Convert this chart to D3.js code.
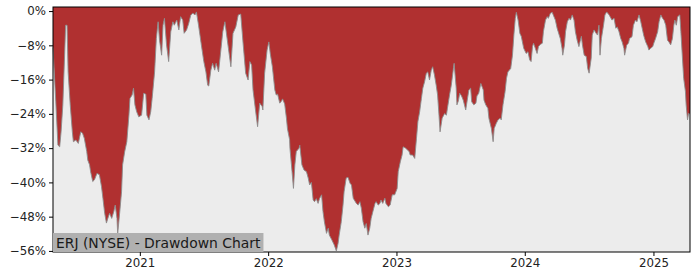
<!DOCTYPE html>
<html>
<head>
<meta charset="utf-8">
<script src="https://cdn.jsdelivr.net/npm/d3@7"></script>
<style>
    body { margin: 0; background: #ffffff; }
</style>
</head>
<body>
<div id="chart-area"></div>
<script>
var chartTitle = "ERJ (NYSE) - Drawdown Chart";

var dates = [
    "2020-04-29","2020-05-07","2020-05-13","2020-05-18","2020-05-22","2020-05-27","2020-06-01","2020-06-04",
    "2020-06-08","2020-06-11","2020-06-17","2020-06-23","2020-06-26","2020-07-03","2020-07-10","2020-07-17",
    "2020-07-22","2020-07-27","2020-08-03","2020-08-06","2020-08-11","2020-08-14","2020-08-20","2020-08-25",
    "2020-09-01","2020-09-08","2020-09-14","2020-09-18","2020-09-23","2020-09-28","2020-10-02","2020-10-07",
    "2020-10-13","2020-10-19","2020-10-23","2020-10-28","2020-10-30","2020-11-05","2020-11-10","2020-11-13",
    "2020-11-19","2020-11-25","2020-12-01","2020-12-04","2020-12-10","2020-12-14","2020-12-18","2020-12-23",
    "2020-12-29","2021-01-06","2021-01-12","2021-01-18","2021-01-21","2021-01-27","2021-02-01","2021-02-05",
    "2021-02-12","2021-02-17","2021-02-22","2021-02-26","2021-03-04","2021-03-08","2021-03-12","2021-03-18",
    "2021-03-24","2021-03-30","2021-04-05","2021-04-09","2021-04-16","2021-04-22","2021-04-27","2021-05-03",
    "2021-05-07","2021-05-14","2021-05-20","2021-05-26","2021-06-01","2021-06-07","2021-06-11","2021-06-17",
    "2021-06-21","2021-06-25","2021-07-02","2021-07-08","2021-07-13","2021-07-16","2021-07-22","2021-07-27",
    "2021-08-02","2021-08-06","2021-08-13","2021-08-19","2021-08-25","2021-08-31","2021-09-03","2021-09-10",
    "2021-09-17","2021-09-23","2021-10-01","2021-10-08","2021-10-15","2021-10-21","2021-10-29","2021-11-05",
    "2021-11-10","2021-11-15","2021-11-19","2021-11-26","2021-12-02","2021-12-08","2021-12-15","2021-12-17",
    "2021-12-22","2021-12-29","2022-01-03","2022-01-07","2022-01-13","2022-01-20","2022-01-24","2022-01-28",
    "2022-02-03","2022-02-08","2022-02-11","2022-02-17","2022-02-22","2022-02-25","2022-03-03","2022-03-04",
    "2022-03-10","2022-03-14","2022-03-18","2022-03-22","2022-03-30","2022-04-01","2022-04-07","2022-04-13",
    "2022-04-20","2022-04-25","2022-04-29","2022-05-04","2022-05-09","2022-05-13","2022-05-18","2022-05-23",
    "2022-05-27","2022-06-02","2022-06-06","2022-06-10","2022-06-16","2022-06-21","2022-06-24","2022-07-01",
    "2022-07-08","2022-07-14","2022-07-19","2022-07-22","2022-07-28","2022-08-02","2022-08-05","2022-08-11",
    "2022-08-16","2022-08-22","2022-08-26","2022-08-31","2022-09-06","2022-09-09","2022-09-14","2022-09-19",
    "2022-09-23","2022-09-28","2022-10-03","2022-10-07","2022-10-12","2022-10-17","2022-10-21","2022-10-26",
    "2022-11-01","2022-11-04","2022-11-10","2022-11-15","2022-11-18","2022-11-23","2022-11-29","2022-12-02",
    "2022-12-09","2022-12-14","2022-12-20","2022-12-27","2023-01-03","2023-01-06","2023-01-12","2023-01-17",
    "2023-01-20","2023-01-27","2023-02-06","2023-02-09","2023-02-16","2023-02-22","2023-02-27","2023-03-03",
    "2023-03-08","2023-03-13","2023-03-17","2023-03-22","2023-03-27","2023-03-31","2023-04-05","2023-04-10",
    "2023-04-14","2023-04-19","2023-04-24","2023-04-28","2023-05-02","2023-05-05","2023-05-11","2023-05-18",
    "2023-05-23","2023-05-26","2023-06-01","2023-06-06","2023-06-12","2023-06-14","2023-06-20","2023-06-22",
    "2023-06-26","2023-06-30","2023-07-05","2023-07-10","2023-07-17","2023-07-21","2023-07-26","2023-07-31",
    "2023-08-03","2023-08-09","2023-08-15","2023-08-18","2023-08-23","2023-08-29","2023-09-05","2023-09-07",
    "2023-09-12","2023-09-18","2023-09-21","2023-09-22","2023-09-28","2023-10-03","2023-10-06","2023-10-12",
    "2023-10-17","2023-10-23","2023-10-26","2023-10-31","2023-11-06","2023-11-10","2023-11-14","2023-11-22",
    "2023-11-27","2023-12-01","2023-12-05","2023-12-08","2023-12-13","2023-12-18","2023-12-22","2023-12-29",
    "2024-01-05","2024-01-10","2024-01-15","2024-01-19","2024-01-23","2024-01-26","2024-01-31","2024-02-05",
    "2024-02-09","2024-02-14","2024-02-20","2024-02-23","2024-02-29","2024-03-05","2024-03-08","2024-03-14",
    "2024-03-19","2024-03-22","2024-03-28","2024-04-02","2024-04-05","2024-04-11","2024-04-16","2024-04-18",
    "2024-04-23","2024-04-26","2024-05-01","2024-05-06","2024-05-10","2024-05-15","2024-05-20","2024-05-24",
    "2024-05-29","2024-06-03","2024-06-06","2024-06-10","2024-06-13","2024-06-18","2024-06-24","2024-06-28",
    "2024-07-02","2024-07-08","2024-07-11","2024-07-16","2024-07-22","2024-07-26","2024-07-30","2024-08-02",
    "2024-08-06","2024-08-12","2024-08-16","2024-08-21","2024-08-28","2024-09-05","2024-09-11","2024-09-16",
    "2024-09-20","2024-09-25","2024-09-30","2024-10-04","2024-10-09","2024-10-11","2024-10-17","2024-10-22",
    "2024-10-25","2024-11-01","2024-11-05","2024-11-11","2024-11-15","2024-11-21","2024-11-26","2024-12-02",
    "2024-12-05","2024-12-10","2024-12-16","2024-12-19","2024-12-24","2024-12-30","2025-01-02","2025-01-07",
    "2025-01-13","2025-01-17","2025-01-22","2025-01-27","2025-01-31","2025-02-05","2025-02-10","2025-02-14",
    "2025-02-19","2025-02-24","2025-02-28","2025-03-03","2025-03-07","2025-03-11","2025-03-17","2025-03-20",
    "2025-03-24","2025-03-28","2025-04-02","2025-04-04","2025-04-08","2025-04-11","2025-04-15"
];

var drawdowns = [
    -8.5, -21.2, -31.3, -31.7, -28.2, -21.9, -10.3, -3.3,
    -3.3, -14.2, -21.9, -28.2, -30.5, -30.1, -30.9, -28.2,
    -28.5, -29.7, -32.8, -34.8, -35.9, -37.5, -39.8, -39.4,
    -37.9, -38.2, -41.0, -43.7, -47.2, -49.5, -48.4, -47.2,
    -48.4, -46.8, -45.3, -48.4, -52.0, -46.8, -42.2, -35.9,
    -32.8, -30.5, -24.3, -20.4, -19.6, -18.0, -21.9, -23.5,
    -24.7, -24.3, -19.2, -19.4, -24.3, -25.4, -23.5, -20.4,
    -14.2, -6.4, -2.5, -6.8, -10.3, -3.3, -1.7, -7.9,
    -11.8, -4.8, -2.5, -3.3, -2.1, -4.4, -1.3, -2.1,
    -5.2, -4.4, -2.9, -0.9, -0.5, -0.9, -0.2, -3.3,
    -5.6, -7.9, -11.8, -14.2, -17.3, -17.5, -13.8, -12.2,
    -13.8, -12.2, -14.2, -9.5, -4.8, -2.5, -4.4, -8.7,
    -13.0, -5.2, -3.7, -0.9, -0.7, -6.8, -14.5, -16.1,
    -11.8, -12.6, -18.4, -23.1, -27.0, -21.5, -22.3, -23.1,
    -14.5, -9.1, -7.2, -9.9, -13.0, -18.4, -19.6, -19.4,
    -21.5, -21.0, -20.5, -21.7, -25.0, -27.5, -30.0, -32.0,
    -37.5, -41.4, -35.9, -32.8, -32.0, -31.3, -35.9, -37.1,
    -37.5, -39.0, -40.6, -40.0, -44.1, -44.5, -43.8, -44.9,
    -43.8, -42.9, -46.8, -49.2, -51.9, -50.7, -52.3, -53.4,
    -54.6, -56.0, -54.2, -52.3, -49.2, -45.3, -42.2, -39.0,
    -38.8, -40.2, -40.6, -43.7, -44.5, -44.9, -45.3, -44.5,
    -46.0, -49.2, -50.7, -49.6, -52.3, -50.7, -48.4, -46.8,
    -44.9, -44.5, -45.3, -44.9, -44.1, -44.9, -43.7, -44.9,
    -45.7, -45.3, -42.9, -42.9, -41.4, -37.5, -35.2, -33.6,
    -31.7, -32.0, -32.8, -33.6, -33.6, -34.4, -29.7, -25.8,
    -23.5, -20.4, -18.0, -16.5, -14.5, -14.2, -16.1, -13.8,
    -13.0, -14.9, -17.3, -19.6, -24.3, -28.2, -25.0, -23.9,
    -24.3, -22.7, -19.6, -17.3, -13.4, -12.2, -18.0, -21.9,
    -21.0, -19.2, -19.8, -20.8, -23.1, -21.0, -18.4, -18.0,
    -21.2, -21.9, -21.5, -19.8, -19.2, -16.9, -18.4, -20.8,
    -21.9, -22.7, -25.0, -25.4, -27.4, -30.5, -27.4, -26.2,
    -25.4, -25.0, -25.4, -21.9, -18.8, -15.7, -14.2, -13.4,
    -10.3, -5.6, -1.7, -0.3, -2.1, -5.2, -5.9, -8.7,
    -9.9, -9.5, -11.4, -11.8, -8.3, -7.5, -8.7, -9.9,
    -8.3, -7.8, -7.5, -4.8, -2.1, -1.3, -1.7, -0.5,
    -0.3, -0.9, -2.1, -4.0, -4.8, -6.4, -8.7, -10.3,
    -7.9, -4.8, -2.5, -1.7, -2.1, -0.9, -2.1, -4.8,
    -6.8, -8.3, -7.2, -5.9, -7.9, -10.3, -10.6, -13.4,
    -14.5, -11.0, -5.6, -4.4, -5.2, -5.6, -3.3, -10.3,
    -6.4, -3.3, -0.9, -0.2, -0.9, -2.1, -1.7, -4.0,
    -3.7, -4.8, -6.4, -7.2, -8.7, -10.3, -7.9, -7.5,
    -6.4, -6.0, -3.3, -2.1, -2.5, -0.9, -2.5, -4.8,
    -5.9, -7.2, -8.3, -9.1, -8.7, -8.3, -7.5, -6.4,
    -4.8, -2.5, -0.9, -1.7, -2.1, -3.3, -6.8, -7.2,
    -7.9, -6.4, -3.3, -2.1, -3.3, -1.3, -0.9, -4.8,
    -10.3, -15.7, -18.8, -21.9, -25.4, -23.9, -24.0
];

var yTickValues = [0, -8, -16, -24, -32, -40, -48, -56];
var xTickYears  = ["2021", "2022", "2023", "2024", "2025"];

var margin = { top: 7, left: 53, bottom: 28, right: 10 };
var svgWidth  = 700;
var svgHeight = 280;

var width  = svgWidth - margin.left - margin.right;
var height = svgHeight - margin.top - margin.bottom;

var parseDate = d3.timeParse("%Y-%m-%d");
var points = dates.map((d, i) => ({ date: parseDate(d), value: drawdowns[i] }));

var svg = d3.select("#chart-area")
            .append("svg")
            .attr("width", svgWidth)
            .attr("height", svgHeight);

var graphSpace = svg.append("g")
                    .attr("transform", "translate(" + margin.left + ", " + margin.top + ")");

var x = d3.scaleTime()
          .domain(d3.extent(points, (d) => d.date))
          .range([0, width]);

var y = d3.scaleLinear()
          .domain([-56.25, 0.95])
          .range([height, 0]);

// plot background
graphSpace.append("rect")
          .attr("width", width)
          .attr("height", height)
          .attr("fill", "#ececec");

// drawdown area, filled from the top of the plot down to the curve
var area = d3.area()
             .x((d) => x(d.date))
             .y0(0)
             .y1((d) => y(d.value));

graphSpace.append("path")
          .datum(points)
          .attr("d", area)
          .attr("fill", "#b03030");

var line = d3.line()
             .x((d) => x(d.date))
             .y((d) => y(d.value));

graphSpace.append("path")
          .datum(points)
          .attr("d", line)
          .attr("fill", "none")
          .attr("stroke", "#8c8c8c")
          .attr("stroke-width", 0.9);

// axes
var fmt = (d) => (d < 0 ? "\u2212" + Math.abs(d) : d) + "%";

var yAxisCall = d3.axisLeft(y)
                  .tickValues(yTickValues)
                  .tickSize(4)
                  .tickPadding(3)
                  .tickFormat(fmt);

var yAxis = graphSpace.append("g")
                      .attr("class", "y-axis")
                      .call(yAxisCall);

var xAxisCall = d3.axisBottom(x)
                  .tickValues(xTickYears.map((d) => parseDate(d + "-01-01")))
                  .tickSize(4)
                  .tickPadding(3)
                  .tickFormat(d3.timeFormat("%Y"));

var xAxis = graphSpace.append("g")
                      .attr("class", "x-axis")
                      .attr("transform", "translate(0," + height + ")")
                      .call(xAxisCall);

[xAxis, yAxis].forEach((g) => {
    g.select(".domain").remove();
    g.selectAll(".tick line").attr("stroke", "#000").attr("stroke-width", 1);
    g.selectAll(".tick text")
     .attr("fill", "#222")
     .attr("font-family", "DejaVu Sans")
     .attr("font-size", "11.8px");
});

// frame
graphSpace.append("rect")
          .attr("width", width)
          .attr("height", height)
          .attr("fill", "none")
          .attr("stroke", "#000")
          .attr("stroke-width", 1);

// title box bottom-left
var titleGroup = graphSpace.append("g")
                           .attr("transform", "translate(0, " + height + ")");

var titleText = titleGroup.append("text")
                          .attr("x", 3)
                          .attr("y", -4.5)
                          .attr("font-family", "DejaVu Sans")
                          .attr("font-size", "13.9px")
                          .attr("fill", "#1a1a1a")
                          .text(chartTitle);

var tw = titleText.node().getComputedTextLength();

titleGroup.insert("rect", "text")
          .attr("x", 0)
          .attr("y", -19)
          .attr("width", tw + 6)
          .attr("height", 19)
          .attr("fill", "#b0b0b0");
</script>
</body>
</html>
